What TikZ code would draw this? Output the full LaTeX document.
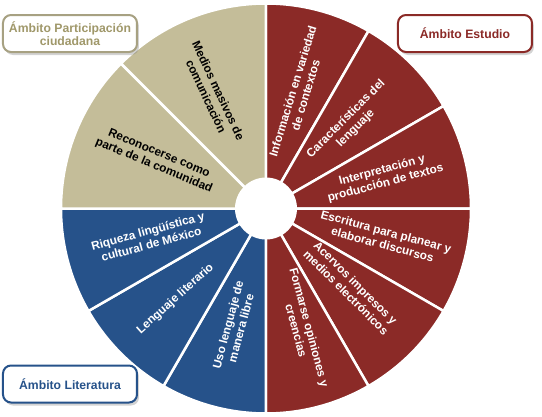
\documentclass[tikz,border=0pt]{standalone}
\usepackage{fontspec}
\setmainfont{Liberation Sans}
\usetikzlibrary{shadows}

\definecolor{estudio}{HTML}{8B2A27}
\definecolor{literatura}{HTML}{26528A}
\definecolor{participa}{HTML}{C4BD99}
\definecolor{participatext}{HTML}{A0986A}

\begin{document}
\begin{tikzpicture}[x=1pt, y=1pt,
    wedge/.style={draw=white, line width=2.5pt, line join=round},
    seglabel/.style={align=center, text=white, inner sep=1pt, font=\bfseries\fontsize{11.8}{13.5}\selectfont},
    ambito/.style={draw, fill=white, line width=2pt, rounded corners=8pt, minimum width=134pt, minimum height=37pt, align=center, font=\bfseries\fontsize{12.2}{13}\selectfont, drop shadow={shadow xshift=2pt, shadow yshift=-3pt, opacity=0.35}}]

    \useasboundingbox (-266,-207.5) rectangle (276,208.5);
    \coordinate (c) at (0,0);

    % wedges
    \foreach \a/\b in {90/60, 60/30, 30/0, 0/-30, -30/-60, -60/-90}
        \filldraw[wedge, fill=estudio] (c) -- (\a:205) arc (\a:\b:205) -- cycle;
    \foreach \a/\b in {270/240, 240/210, 210/180}
        \filldraw[wedge, fill=literatura] (c) -- (\a:205) arc (\a:\b:205) -- cycle;
    \foreach \a/\b in {180/135, 135/90}
        \filldraw[wedge, fill=participa] (c) -- (\a:205) arc (\a:\b:205) -- cycle;
    \fill[white] (c) circle (31);

    % Ambito Estudio
    \node[seglabel, rotate=73] (info) at (74:120) {Información en variedad\\ de contextos};
    \node[seglabel, rotate=45] (caract) at (45:120) {Características del\\ lenguaje};
    \node[seglabel, rotate=15] (interp) at (15:122) {Interpretación y\\ producción de textos};
    \node[seglabel, rotate=-15] (escrit) at (-14:122) {Escritura para planear y\\ elaborar discursos};
    \node[seglabel, rotate=-45] (acerv) at (-43:116) {Acervos impresos y\\ medios electrónicos};
    \node[seglabel, rotate=-75] (formar) at (-73:126) {Formarse opiniones y\\ creencias};

    % Ambito Literatura
    \node[seglabel, rotate=75] (usoleng) at (255:122) {Uso lenguaje de\\ manera libre};
    \node[seglabel, rotate=42] (lengual) at (225:128) {Lenguaje literario};
    \node[seglabel, rotate=15] (riqueza) at (194:120) {Riqueza lingüística y\\ cultural de México};

    % Ambito Participacion
    \node[seglabel, text=black, rotate=-22.5] (reconoc) at (156:120) {Reconocerse como\\ parte de la comunidad};
    \node[seglabel, text=black, rotate=-65] (medios) at (115:127) {Medios masivos de\\ comunicación};

    \node[ambito, draw=participa!85!black, text=participatext] (participacion) at (-196,175) {Ámbito Participación\\ ciudadana};
    \node[ambito, draw=estudio, text=estudio] (estudiobox) at (199,175) {Ámbito Estudio};
    \node[ambito, draw=literatura, text=literatura] (literaturabox) at (-196,-175.5) {Ámbito Literatura};

\end{tikzpicture}
\end{document}
